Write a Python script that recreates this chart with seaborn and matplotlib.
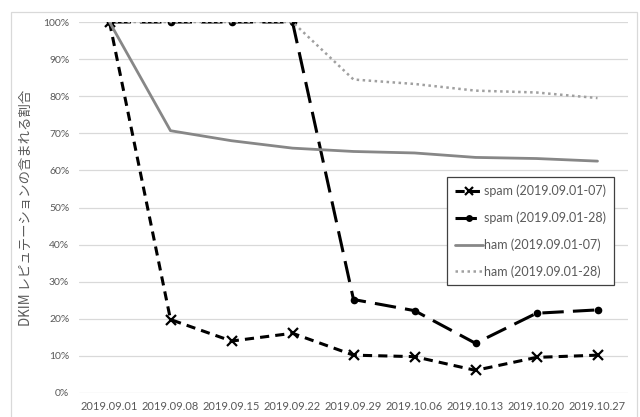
import matplotlib
matplotlib.use("Agg")
import matplotlib.pyplot as plt
from matplotlib.patches import Rectangle
from matplotlib.ticker import FuncFormatter
import seaborn as sns
import pandas as pd

# Weekly dates (category axis)
dates = ["2019.09.01", "2019.09.08", "2019.09.15", "2019.09.22", "2019.09.29",
         "2019.10.06", "2019.10.13", "2019.10.20", "2019.10.27"]

# Share of mails carrying a DKIM reputation (%)
spam_0107 = [100, 19.8, 14.0, 16.1, 10.2, 9.8, 6.1, 9.6, 10.2]
spam_0128 = [100, 100, 100, 100, 25.2, 22.2, 13.4, 21.5, 22.4]
ham_0107 = [100, 70.7, 68.0, 66.0, 65.1, 64.7, 63.5, 63.2, 62.5]
ham_0128 = [100, 100, 100, 100, 84.5, 83.3, 81.5, 81.0, 79.5]

series_names = ["spam (2019.09.01-07)", "spam (2019.09.01-28)",
                "ham (2019.09.01-07)", "ham (2019.09.01-28)"]

frames = []
for name, vals in zip(series_names, [spam_0107, spam_0128, ham_0107, ham_0128]):
    frames.append(pd.DataFrame({"date": dates, "ratio": [v / 100 for v in vals], "series": name}))
df = pd.concat(frames, ignore_index=True)

sns.set_theme(style="white")
plt.rcParams["font.family"] = ["Lato", "Noto Sans CJK JP", "DejaVu Sans"]

fig = plt.figure(figsize=(6.4, 4.17), dpi=100)
ax = fig.add_axes([79 / 640, 24 / 417, 549 / 640, 371 / 417])

styles = {
    series_names[0]: dict(color="black", lw=2.2, dashes=(3, 2), marker="x", ms=7, mew=1.6),
    series_names[1]: dict(color="black", lw=2.2, dashes=(7, 3), marker="o", ms=5.5, mew=0),
    series_names[2]: dict(color="#878787", lw=2.0, dashes=(None, None), marker=None),
    series_names[3]: dict(color="#a0a0a0", lw=1.8, dashes=(1, 1.4), marker=None),
}

for name in series_names:
    st = styles[name]
    sub = df[df["series"] == name]
    kw = dict(color=st["color"], linewidth=st["lw"], label=name, sort=False, ax=ax)
    if st["marker"]:
        kw.update(marker=st["marker"], markersize=st["ms"], markeredgewidth=st["mew"],
                  markeredgecolor=st["color"], markerfacecolor=st["color"])
    line_ax = sns.lineplot(data=sub, x="date", y="ratio", **kw)
    ln = line_ax.lines[-1]
    if st["dashes"][0] is not None:
        ln.set_dashes(st["dashes"])
    ln.set_dash_capstyle("butt")

ax.set_xlim(-0.5, len(dates) - 0.5)
ax.set_ylim(0, 1)
ax.set_yticks([i / 10 for i in range(11)])
ax.yaxis.set_major_formatter(FuncFormatter(lambda v, p: f"{v * 100:.0f}%"))
ax.grid(axis="y", color="#d9d9d9", linewidth=0.9)
ax.grid(axis="x", visible=False)
ax.set_axisbelow(True)
for sp in ax.spines.values():
    sp.set_visible(False)

ax.tick_params(axis="y", length=0, pad=7, labelsize=7.5, labelcolor="#595959")
ax.tick_params(axis="x", length=0, pad=6, labelsize=8, labelcolor="#595959")
ax.set_xlabel("")
ax.set_ylabel("DKIM レピュテーションの含まれる割合", fontsize=9.6, color="#595959",
              family=["Noto Sans CJK JP", "DejaVu Sans"])
ax.yaxis.set_label_coords(-0.084, 0.5)

leg = ax.legend(loc="upper left", bbox_to_anchor=(447 / 640, 1 - 177 / 417),
                bbox_transform=fig.transFigure, borderaxespad=0, fancybox=False,
                framealpha=1, edgecolor="#404040", fontsize=9, labelspacing=1.15,
                handlelength=2.3, handletextpad=0.1, borderpad=0.6)
leg.get_frame().set_linewidth(0.9)
for t in leg.get_texts():
    t.set_color("#595959")
for h in leg.legend_handles:
    if h.get_marker() == "x":
        h.set_markersize(5.5)
    elif h.get_marker() == "o":
        h.set_markersize(5)

# Light frame around the whole chart
fig.patches.append(Rectangle((11 / 640, -0.05), 626 / 640, 1.05 - 12 / 417,
                             transform=fig.transFigure, fill=False,
                             edgecolor="#d9d9d9", linewidth=0.9))

fig.savefig("out.png", dpi=100)
